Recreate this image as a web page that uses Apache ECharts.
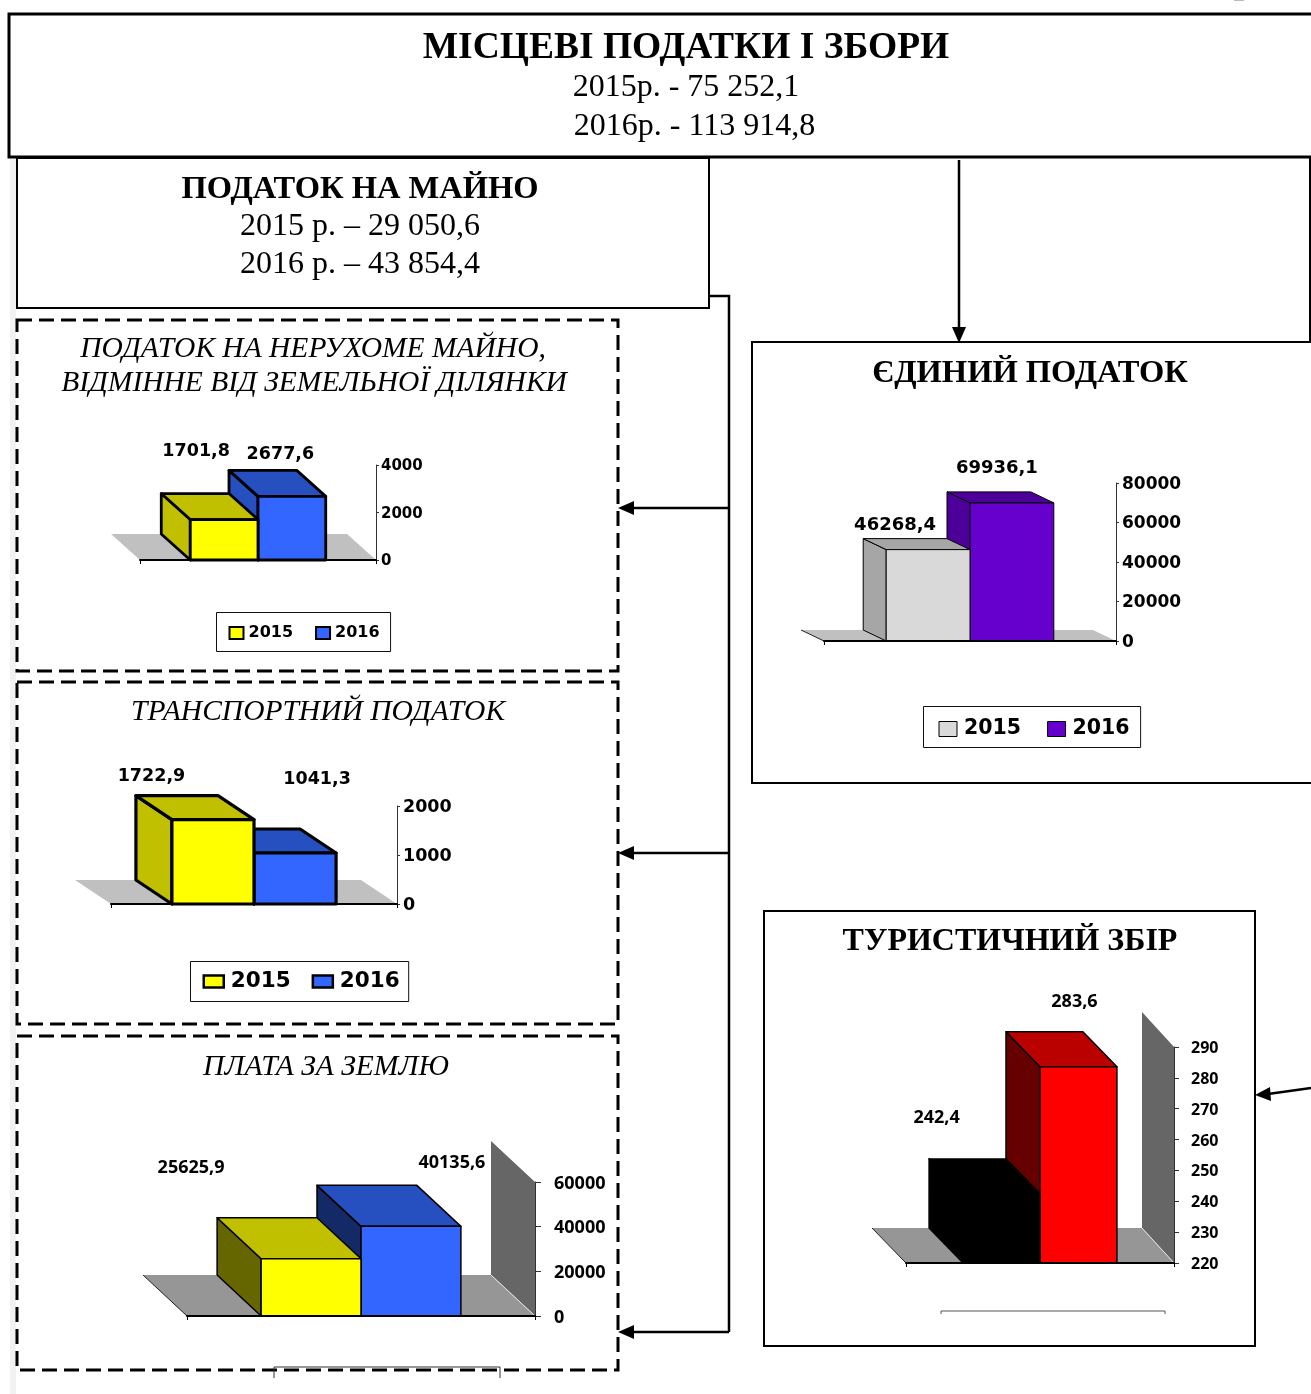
<!DOCTYPE html>
<html><head><meta charset="utf-8">
<script src="https://cdn.jsdelivr.net/npm/echarts@6/dist/echarts.min.js"></script>
<style>html,body{margin:0;padding:0;background:#fff}#c{width:1311px;height:1394px}</style>
</head><body><div id="c"></div>
<script>
const categories = ['Податок на нерухоме майно','Транспортний податок','Плата за землю','Єдиний податок','Туристичний збір'];
const values2015 = [1701.8, 1722.9, 25625.9, 46268.4, 242.4];
const values2016 = [2677.6, 1041.3, 40135.6, 69936.1, 283.6];
const yMin = [0, 0, 0, 0, 220];
const yMax = [4000, 2000, 60000, 80000, 290];
const yStep = [2000, 1000, 20000, 20000, 10];
const seriesNames = ['2015', '2016'];

const SERIF = '"Liberation Serif"', SANS = '"DejaVu Sans"', OPEN = '"Open Sans"';
const BAR = 0.287;
const YEL = {face:'#ffff00', top:'#c0c000', side:'#c0c000'};
const BLU = {face:'#3366ff', top:'#264fbf', side:'#264fbf'};
const layouts = [
  {x:140,y:465,w:236,h:95, dx:-29,dy:-26, lw:2.8, floor:'#c0c0c0', font:SANS, axisFs:15, lblFs:17.5, margin:5, tick:3,
   c15:YEL, c16:BLU, off15:[-28,-68], off16:[-11.5,-42],
   legend:{left:216,top:612,fs:16,iw:14,ih:12,gap:22,pad:[12.5,11,10.5,12],bw:2,tp:0}},
  {x:111,y:806,w:286,h:98, dx:-36,dy:-24, lw:3.2, floor:'#c0c0c0', font:SANS, axisFs:17.5, lblFs:17.5, margin:6, tick:3,
   c15:YEL, c16:BLU, off15:[-61.5,-43], off16:[22,-73.5],
   legend:{left:190,top:961,fs:21.5,iw:20,ih:12,gap:21,pad:[9,9,9,12],bw:2.5,tp:2}},
  {x:187,y:1182,w:348,h:134, dx:-44,dy:-41, lw:1.5, floor:'#969696', wall:'#666666', font:OPEN, axisFs:18, lblFs:18, margin:19, tick:6, edge:true,
   c15:{face:'#ffff00',top:'#c0c000',side:'#666600'}, c16:{face:'#3366ff',top:'#264fbf',side:'#142a66'}, off15:[-120,-91], off16:[41,-63]},
  {x:824,y:483,w:292,h:158, dx:-23,dy:-11, lw:1, floor:'#c0c0c0', font:SANS, axisFs:17, lblFs:18, margin:6, tick:3, edge:true,
   c15:{face:'#d9d9d9',top:'#a6a6a6',side:'#a6a6a6'}, c16:{face:'#6600cc',top:'#4c0099',side:'#4c0099'}, off15:[-33,-24.5], off16:[-15,-35],
   legend:{left:923,top:706,fs:20.5,iw:18,ih:15,gap:26,pad:[12,11,8,15],bw:1,tp:2}},
  {x:906,y:1047,w:268,h:216, dx:-34,dy:-35, wdx:-32, lw:1.5, floor:'#969696', wall:'#666666', font:OPEN, axisFs:16, lblFs:18, margin:17, tick:5, edge:true,
   c15:{face:'#000000',top:'#000000',side:'#000000'}, c16:{face:'#ff0000',top:'#bb0000',side:'#660000'}, off15:[-65,-76], off16:[-4,-65]}
];
const fmt = v => String(v).replace('.', ',');

function poly(points, fill, stroke, lw){
  return {type:'polygon', shape:{points}, style:{fill, stroke, lineWidth:lw, lineJoin:'round'}};
}
function barRenderer(i, pos, colors, off){
  const L = layouts[i];
  return function(params, api){
    const v = api.value(1);
    const c0 = api.coord([0, yMin[i]]), c1 = api.coord([0, v]);
    const w = api.size([1,0])[0] * BAR;
    const a = c0[0] + pos * w, b = a + w, y0 = c0[1], y1 = c1[1], dx = L.dx, dy = L.dy;
    return {type:'group', children:[
      poly([[a,y1],[a+dx,y1+dy],[a+dx,y0+dy],[a,y0]], colors.side, '#000', L.lw),
      poly([[a,y1],[a+dx,y1+dy],[b+dx,y1+dy],[b,y1]], colors.top, '#000', L.lw),
      poly([[a,y1],[b,y1],[b,y0],[a,y0]], colors.face, '#000', L.lw),
      {type:'text', z2:50, style:{text:fmt(v), x:(a+b)/2+off[0], y:y1+off[1], align:'center', verticalAlign:'middle',
        fill:'#000', font:'bold '+L.lblFs+'px '+L.font}}
    ]};
  };
}
function floorRenderer(i){
  const L = layouts[i];
  return function(params){
    const r = params.coordSys, l = r.x, t = r.y, R = r.x + r.width, B = r.y + r.height, dx = L.dx, dy = L.dy, wx = L.wdx || dx;
    const kids = [];
    if (L.wall) {
      kids.push(poly([[R,B],[R,t],[R+wx,t+dy],[R+wx,B+dy]], L.wall, null, 0));
    }
    kids.push(poly([[l,B],[R,B],[R+wx,B+dy],[l+dx,B+dy]], L.floor, null, 0));
    if (L.wall) kids.push({type:'line', shape:{x1:R,y1:B,x2:R+wx,y2:B+dy}, style:{stroke:'#e8e8e8',lineWidth:1}});
    if (L.edge) kids.push({type:'line', shape:{x1:l,y1:B,x2:l+dx,y2:B+dy}, style:{stroke:'#222',lineWidth:1}});
    return {type:'group', children:kids};
  };
}

const grid = [], xAxis = [], yAxis = [], series = [], legend = [];
layouts.forEach((L, i) => {
  grid.push({left:L.x, top:L.y, width:L.w, height:L.h, containLabel:false});
  xAxis.push({type:'category', gridIndex:i, data:[categories[i]], z:6,
    axisLabel:{show:false}, axisTick:{show:true,length:4,lineStyle:{color:'#000'}},
    axisLine:{show:true,onZero:false,lineStyle:{color:'#000',width:2}}, splitLine:{show:false}});
  yAxis.push({type:'value', gridIndex:i, position:'right', min:yMin[i], max:yMax[i], interval:yStep[i], z:6,
    axisLine:{show:true,lineStyle:{color:'#333',width:1}}, axisTick:{show:true,length:L.tick,lineStyle:{color:'#333'}},
    splitLine:{show:false},
    axisLabel:{show:true,margin:L.margin,verticalAlign:'top',lineHeight:3,color:'#000',fontWeight:'bold',fontFamily:L.font,fontSize:L.axisFs,formatter:v=>String(v)}});
  series.push({type:'custom', name:'Основа '+i, xAxisIndex:i, yAxisIndex:i, z:2, silent:true, clip:false,
    renderItem:floorRenderer(i), data:[[0,yMin[i]]]});
  series.push({type:'custom', name:seriesNames[1], xAxisIndex:i, yAxisIndex:i, z:3, clip:false, silent:true,
    itemStyle:{color:L.c16.face}, renderItem:barRenderer(i,0,L.c16,L.off16), data:[[0,values2016[i]]], encode:{x:0,y:1}});
  series.push({type:'custom', name:seriesNames[0], xAxisIndex:i, yAxisIndex:i, z:4, clip:false, silent:true,
    itemStyle:{color:L.c15.face}, renderItem:barRenderer(i,-1,L.c15,L.off15), data:[[0,values2015[i]]], encode:{x:0,y:1}});
  if (L.legend) {
    const G = L.legend;
    legend.push({show:true, left:G.left+0.5, top:G.top+0.5, orient:'horizontal', icon:'rect', selectedMode:false,
      itemWidth:G.iw, itemHeight:G.ih, itemGap:G.gap, padding:G.pad,
      backgroundColor:'#fff', borderColor:'#111', borderWidth:1, borderRadius:0,
      textStyle:{color:'#000',fontWeight:'bold',fontFamily:L.font,fontSize:G.fs,padding:[0,0,0,G.tp]},
      data:[{name:seriesNames[0],itemStyle:{color:L.c15.face,borderColor:'#000',borderWidth:G.bw}},
            {name:seriesNames[1],itemStyle:{color:L.c16.face,borderColor:'#000',borderWidth:G.bw}}]});
  }
});

function rect(x,y,w,h,lw,dash){return {type:'rect',z:1,shape:{x,y,width:w,height:h},style:{fill:'none',stroke:'#000',lineWidth:lw,lineDash:dash||null}};}
function pl(pts,lw,col){return {type:'polyline',z:1,shape:{points:pts},style:{fill:'none',stroke:col||'#000',lineWidth:lw}};}
function tri(pts){return {type:'polygon',z:1,shape:{points:pts},style:{fill:'#000'}};}
function txt(text,x,y,size,style){
  return {type:'text',z:1,x,y,style:{text,align:'center',verticalAlign:'middle',fill:'#000',font:(style||'')+' '+size+'px '+SERIF}};
}
const DASH=[15,7];
const graphics = [
  {type:'rect',z:0,shape:{x:10,y:158,width:6,height:1236},style:{fill:'#f2f2f2'}},
  rect(9,14,1340,143,3),
  rect(17,158,692,150,2),
  rect(17,320,601,351,3,DASH),
  rect(17,682,601,342,3,DASH),
  rect(17,1036,601,334,3,DASH),
  rect(752,342,600,441,2),
  rect(764,911,491,435,2),
  pl([[709,296],[729,296],[729,1332]],2.5),
  pl([[729,508],[630,508]],2.5), tri([[618,508],[634,501],[634,515]]),
  pl([[729,853],[630,853]],2.5), tri([[618,853],[634,846],[634,860]]),
  pl([[729,1332],[630,1332]],2.5), tri([[618,1332],[634,1325],[634,1339]]),
  pl([[959,160],[959,330]],2.5), tri([[959,343],[952,327],[966,327]]),
  pl([[1310,157],[1310,342]],2),
  pl([[1311,1088],[1268,1094]],2.5), tri([[1255,1095],[1270,1087],[1271,1101]]),
  pl([[274,1378],[274,1367],[500,1367],[500,1378]],1,'#333'),
  pl([[941,1314],[941,1311],[1165,1311],[1165,1314]],1,'#555'),
  pl([[1234,0.5],[1244,0.5]],1,'#bbb'),
  txt('МІСЦЕВІ ПОДАТКИ І ЗБОРИ',686,48,37.5,'bold'),
  txt('2015р. - 75 252,1',686,87.5,32),
  txt('2016р. - 113 914,8',694.5,126.5,32),
  txt('ПОДАТОК НА МАЙНО',360,190,32.5,'bold'),
  txt('2015 р. – 29 050,6',360,227,32),
  txt('2016 р. – 43 854,4',360,265,32),
  txt('ПОДАТОК НА НЕРУХОМЕ МАЙНО,',313,349,29.5,'italic'),
  txt('ВІДМІННЕ ВІД ЗЕМЕЛЬНОЇ ДІЛЯНКИ',314,383,29.5,'italic'),
  txt('ТРАНСПОРТНИЙ ПОДАТОК',318,712,29.5,'italic'),
  txt('ПЛАТА ЗА ЗЕМЛЮ',326,1067,29.5,'italic'),
  txt('ЄДИНИЙ ПОДАТОК',1030,374,32.5,'bold'),
  txt('ТУРИСТИЧНИЙ ЗБІР',1010,942,32,'bold')
];

const chart = echarts.init(document.getElementById('c'), null, {renderer:'canvas'});
chart.setOption({animation:false, backgroundColor:'#fff', tooltip:{show:false}, grid, xAxis, yAxis, series, legend, graphic:{elements:graphics}});
</script></body></html>
